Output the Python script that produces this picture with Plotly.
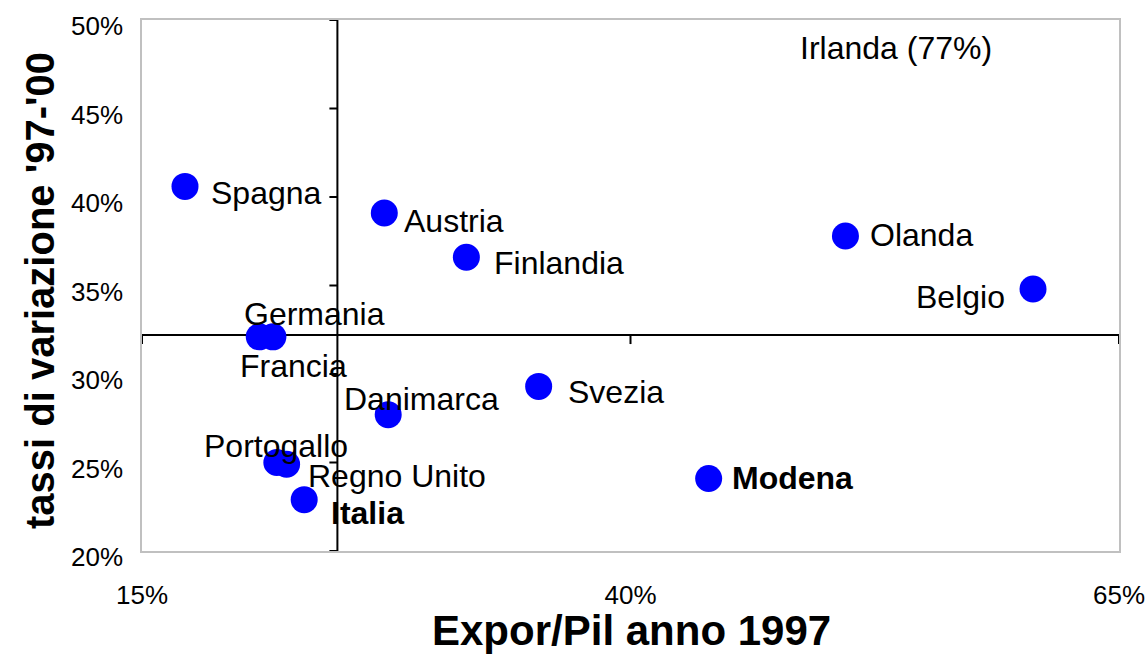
import plotly.graph_objects as go

# ---- data (percent values) ----
countries = ["Spagna", "Austria", "Finlandia", "Olanda", "Belgio", "Francia", "Germania",
             "Svezia", "Danimarca", "Portogallo", "Regno Unito", "Italia", "Modena"]
export_pil = [17.2, 27.4, 31.6, 51.0, 60.6, 21.0, 21.7, 35.3, 27.6, 21.9, 22.4, 23.3, 44.0]
growth = [40.6, 39.1, 36.6, 37.8, 34.8, 32.1, 32.1, 29.3, 27.7, 25.0, 24.9, 22.9, 24.1]
bold_labels = ["Italia", "Modena"]
outlier_label = "Irlanda (77%)"

x_ticks = [15, 40, 65]
y_ticks = [20, 25, 30, 35, 40, 45, 50]
x_cross = 25.0    # vertical axis crossing
y_cross = 32.2    # horizontal axis crossing

# ---- label placement (pixel offsets from the dot: dx, dy(down), anchor) ----
label_pos = {
    "Spagna": (24, 7, "left"),
    "Austria": (18, 8.5, "left"),
    "Finlandia": (26, 6, "left"),
    "Olanda": (23, -1, "left"),
    "Belgio": (-26, 8, "right"),
    "Francia": (34, 29.5, "center"),
    "Germania": (42, -23, "center"),
    "Svezia": (27, 5.5, "left"),
    "Danimarca": (33, -16, "center"),
    "Portogallo": (-1, -17, "center"),
    "Regno Unito": (19, 12, "left"),
    "Italia": (25, 13, "left"),
    "Modena": (21, 0, "left"),
}

FONT = "Liberation Sans, Arial, sans-serif"

fig = go.Figure()
fig.add_trace(go.Scatter(
    x=export_pil, y=growth, mode="markers",
    marker=dict(size=27, color="#0000FF", line=dict(width=0)),
    hoverinfo="skip", showlegend=False,
))

annotations = []
for name, xv, yv in zip(countries, export_pil, growth):
    dx, dy, anc = label_pos[name]
    txt = f"<b>{name}</b>" if name in bold_labels else name
    annotations.append(dict(
        x=xv, y=yv, xref="x", yref="y", text=txt, showarrow=False,
        xanchor=anc, yanchor="middle", xshift=dx, yshift=-dy,
        font=dict(family=FONT, size=32, color="#000000"),
    ))

annotations.append(dict(
    x=0.7718, y=0.947, xref="paper", yref="paper", text=outlier_label,
    showarrow=False, xanchor="center", yanchor="middle",
    font=dict(family=FONT, size=32, color="#000000"),
))
annotations.append(dict(
    x=0.501, y=-0.149, xref="paper", yref="paper", text="<b>Expor/Pil anno 1997</b>",
    showarrow=False, xanchor="center", yanchor="middle",
    font=dict(family=FONT, size=42, color="#000000"),
))
annotations.append(dict(
    x=-0.1044, y=0.4896, xref="paper", yref="paper", text="<b>tassi di variazione '97-'00</b>",
    showarrow=False, xanchor="center", yanchor="middle", textangle=-90,
    font=dict(family=FONT, size=40, color="#000000"),
))

shapes = []
line_style = dict(color="#000000", width=2)
# crossing axes
shapes.append(dict(type="line", xref="x", yref="y", x0=x_cross, x1=x_cross,
                   y0=y_ticks[0], y1=y_ticks[-1], line=line_style, layer="below"))
shapes.append(dict(type="line", xref="x", yref="y", x0=x_ticks[0], x1=x_ticks[-1],
                   y0=y_cross, y1=y_cross, line=line_style, layer="below"))
# ticks on the vertical axis (pointing left)
for yt in y_ticks:
    shapes.append(dict(type="line", xref="x", yref="y", xsizemode="pixel", xanchor=x_cross,
                       x0=-8, x1=0, y0=yt, y1=yt, line=line_style, layer="below"))
# ticks on the horizontal axis (pointing down)
for xt in x_ticks:
    shapes.append(dict(type="line", xref="x", yref="y", ysizemode="pixel", yanchor=y_cross,
                       y0=-9, y1=0, x0=xt, x1=xt, line=line_style, layer="below"))

fig.update_layout(
    width=1145, height=654,
    margin=dict(l=142, r=26, t=20, b=103, autoexpand=False),
    paper_bgcolor="white", plot_bgcolor="white",
    font=dict(family=FONT, color="#000000"),
    annotations=annotations, shapes=shapes, showlegend=False,
)
fig.update_xaxes(
    range=[x_ticks[0], x_ticks[-1]], tickvals=x_ticks, ticktext=[f"{v}%" for v in x_ticks],
    showgrid=False, zeroline=False, showline=True, linecolor="#c0c0c0", linewidth=1.5,
    mirror=True, ticks="", ticklabelstandoff=20, ticklabeloverflow="allow", automargin=False,
    tickfont=dict(family=FONT, size=26, color="#000000"),
)
fig.update_yaxes(
    range=[y_ticks[0], y_ticks[-1]], tickvals=y_ticks, ticktext=[f"{v}%" for v in y_ticks],
    showgrid=False, zeroline=False, showline=True, linecolor="#c0c0c0", linewidth=1.5,
    mirror=True, ticks="", ticklabelstandoff=12, ticklabelshift=6, ticklabeloverflow="allow",
    automargin=False, tickfont=dict(family=FONT, size=26, color="#000000"),
)

fig.write_html(
    "out.html",
    config={"displayModeBar": False},
    post_script="document.body.style.margin='0';document.body.style.padding='0';",
)
